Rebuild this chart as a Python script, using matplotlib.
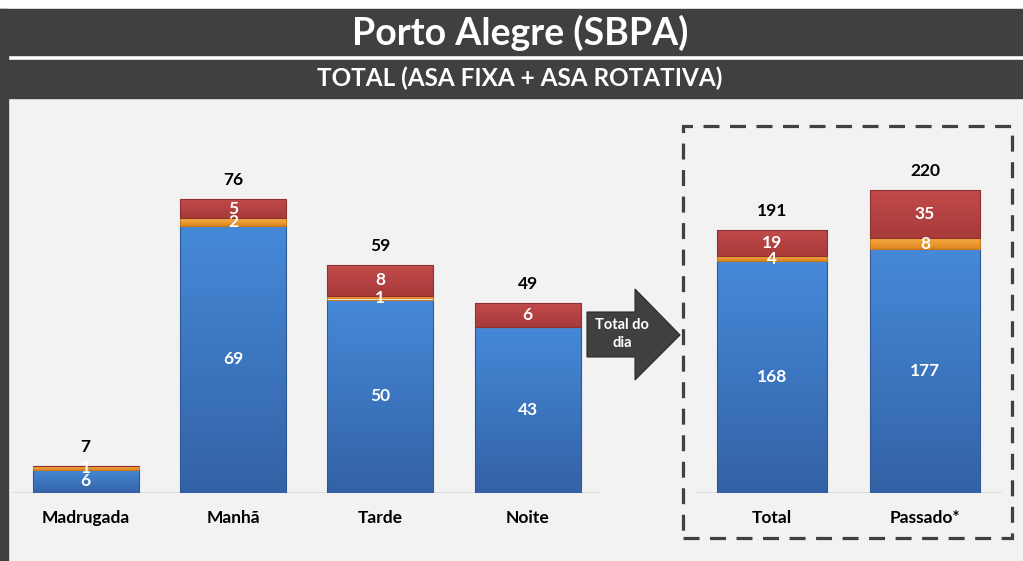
import numpy as np
import matplotlib.pyplot as plt
from matplotlib.patches import Rectangle, Polygon
from matplotlib.colors import LinearSegmentedColormap

plt.rcParams['font.family'] = ['Lato', 'DejaVu Sans']

# data
periods = ['Madrugada', 'Manhã', 'Tarde', 'Noite']
period_blue = [6, 69, 50, 43]
period_orange = [1, 2, 1, 0]
period_red = [0, 5, 8, 6]

day_labels = ['Total', 'Passado*']
day_blue = [168, 177]
day_orange = [4, 8]
day_red = [19, 35]

DARK = '#404040'
# (bottom, top, edge) for each series
BLUE = ('#3462a6', '#4589d8', '#2d5a96')
ORANGE = ('#e0861c', '#f8b14a', '#c77a1f')
RED = ('#a83a3a', '#c24b4b', '#8e3030')

W, H = 1023, 561
fig = plt.figure(figsize=(W / 100, H / 100), dpi=100, facecolor='white')


def fx(x):
    return x / W


def fy(y):
    return 1 - y / H


def frect(x0, y0, x1, y1, **kw):
    fig.patches.append(Rectangle((fx(x0), fy(y1)), fx(x1 - x0), (y1 - y0) / H,
                                 transform=fig.transFigure, **kw))


# header bands and background
frect(8, 98, W, H, color='#f2f2f2', zorder=-10)
frect(0, 9, W, 55, color=DARK, zorder=-10)
frect(8, 60, W, 98, color=DARK, zorder=-10)
frect(0, 9, 8, H, color=DARK, zorder=-10)
fig.text(fx(520), fy(33), 'Porto Alegre (SBPA)', color='white', fontsize=27,
         fontweight='bold', ha='center', va='center')
fig.text(fx(520), fy(78), 'TOTAL (ASA FIXA + ASA ROTATIVA)', color='white',
         fontsize=17.5, fontweight='bold', ha='center', va='center')

grad = np.linspace(0, 1, 64).reshape(-1, 1)


def shaded(ax, bars, colors):
    cmap = LinearSegmentedColormap.from_list('g', [colors[0], colors[1]])
    for bar in bars:
        if bar.get_height() <= 0:
            continue
        x0, y0 = bar.get_x(), bar.get_y()
        im = ax.imshow(grad, cmap=cmap, origin='lower', aspect='auto',
                       extent=(x0, x0 + bar.get_width(), y0, y0 + bar.get_height()),
                       zorder=bar.get_zorder() - 0.1)
        im.set_clip_path(bar)
        bar.set_facecolor('none')


def stacked(ax, labels, blue, orange, red):
    x = range(len(labels))
    bottoms = [b + o for b, o in zip(blue, orange)]
    b1 = ax.bar(x, blue, 0.72, edgecolor=BLUE[2], lw=0.8)
    b2 = ax.bar(x, orange, 0.72, bottom=blue, edgecolor=ORANGE[2], lw=0.8)
    b3 = ax.bar(x, red, 0.72, bottom=bottoms, edgecolor=RED[2], lw=0.8)
    for bars, c in ((b1, BLUE), (b2, ORANGE), (b3, RED)):
        shaded(ax, bars, c)
    for bars, vals in ((b1, blue), (b2, orange), (b3, red)):
        for bar, v in zip(bars, vals):
            if v > 0:
                ax.text(bar.get_x() + bar.get_width() / 2, bar.get_y() + v / 2, str(v),
                        color='white', fontsize=12.5, fontweight='bold',
                        ha='center', va='center', zorder=5)
    for i, (b, o, r) in enumerate(zip(blue, orange, red)):
        ax.annotate(str(b + o + r), (i, b + o + r), xytext=(0, 8),
                    textcoords='offset points', ha='center', va='bottom',
                    fontsize=12.5, fontweight='bold', color='black')
    ax.axhline(0, color='#d9d9d9', lw=1.2, zorder=0)
    ax.set_xticks(list(x))
    ax.set_xticklabels(labels, fontsize=12.5, fontweight='bold')
    ax.tick_params(axis='x', length=0, pad=12)
    ax.set_yticks([])
    for s in ax.spines.values():
        s.set_visible(False)
    ax.patch.set_visible(False)


# left chart: periods
ax1 = fig.add_axes([fx(12), fy(493), fx(600 - 12), (493 - 120) / H])
stacked(ax1, periods, period_blue, period_orange, period_red)
ax1.set_xlim(-0.5, 3.49)
ax1.set_ylim(0, 373 / 3.87)

# right chart: day total
ax2 = fig.add_axes([fx(695), fy(493), fx(1002 - 695), (493 - 140) / H])
stacked(ax2, day_labels, day_blue, day_orange, day_red)
ax2.set_xlim(-0.503, 1.503)
ax2.set_ylim(0, 353 / 1.378)

# arrow
pts = [(587, 312), (635, 312), (635, 289), (680, 335), (635, 380), (635, 357), (587, 357)]
fig.patches.append(Polygon([(fx(a), fy(b)) for a, b in pts], closed=True,
                           transform=fig.transFigure, facecolor=DARK,
                           edgecolor='#2a2a2a', lw=0.8, zorder=3))
fig.text(fx(622), fy(334), 'Total do\ndia', color='white', fontsize=10.5,
         fontweight='bold', ha='center', va='center', linespacing=1.3, zorder=4)

# dashed box
frect(683, 126, 1012, 538, fill=False, edgecolor=DARK, lw=2.3,
      linestyle=(0, (5, 3.3)), zorder=3)

fig.savefig('out.png', dpi=100, facecolor=fig.get_facecolor())
